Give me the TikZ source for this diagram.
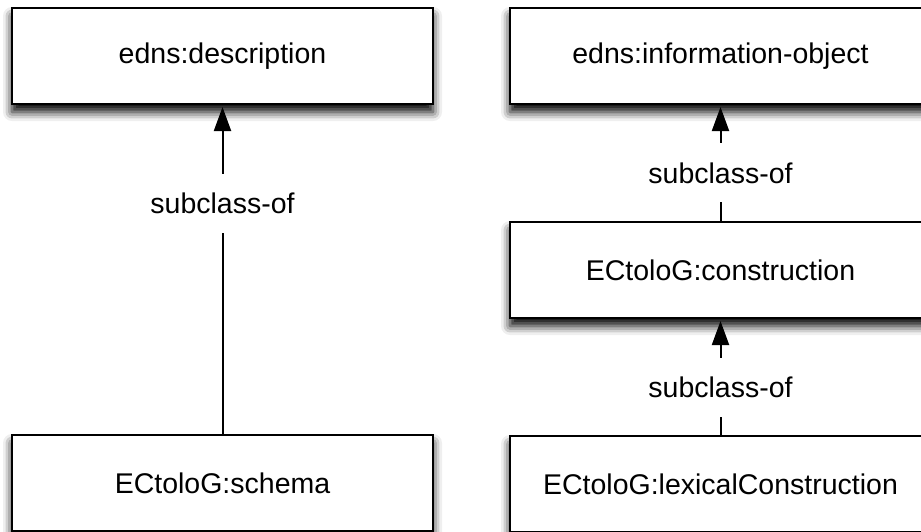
\documentclass[tikz,border=0pt]{standalone}
\usepackage{fontspec}
\setmainfont{Liberation Sans}
\usetikzlibrary{arrows.meta,shadows.blur}
\begin{document}
\begin{tikzpicture}[x=1pt,y=-1pt,
  classbox/.style={draw=black, line width=2pt, fill=white,
    minimum width=421pt, minimum height=96pt, inner sep=0pt,
    font=\fontsize{28.5}{34}\selectfont,
    blur shadow={shadow xshift=0pt, shadow yshift=-8pt,
      shadow blur radius=9pt, shadow opacity=100}},
  conn/.style={line width=2pt, -{Triangle[length=24pt,width=17pt]}, shorten >=2pt},
  lbl/.style={fill=white, inner xsep=4pt, inner ysep=19pt,
    font=\fontsize{28.5}{34}\selectfont}]
  \useasboundingbox (0,0) rectangle (921,531);
  \clip (0,0) rectangle (921,531);

  % class boxes
  \node[classbox] (desc)   at (222.5,56)  {edns:description};
  \node[classbox] (schema) at (222.5,483) {ECtoloG:schema};
  \node[classbox] (info)   at (720.5,56)  {edns:information-object};
  \node[classbox] (constr) at (720.5,270) {ECtoloG:construction};
  \node[classbox] (lex)    at (720.5,484) {ECtoloG:lexicalConstruction};

  % subclass relations
  \draw[conn] (schema.north) -- node[lbl, pos=0.70] {subclass-of} (desc.south);
  \draw[conn] (constr.north) -- node[lbl, pos=0.415] {subclass-of} (info.south);
  \draw[conn] (lex.north) -- node[lbl, pos=0.41] {subclass-of} (constr.south);
\end{tikzpicture}
\end{document}
